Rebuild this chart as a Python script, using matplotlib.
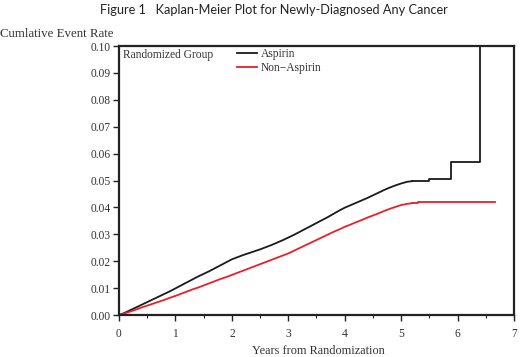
import matplotlib
matplotlib.use("Agg")
import matplotlib.pyplot as plt
from matplotlib.ticker import MultipleLocator, FormatStrFormatter

# ---- data ----
asp_t = [0.0, 0.1, 0.2, 0.3, 0.4, 0.5, 0.6, 0.7, 0.8, 0.9,
         1.0, 1.1, 1.2, 1.3, 1.4, 1.5, 1.6, 1.7, 1.8, 1.9,
         2.0, 2.1, 2.2, 2.3, 2.4, 2.5, 2.6, 2.7, 2.8, 2.9,
         3.0, 3.1, 3.2, 3.3, 3.4, 3.5, 3.6, 3.7, 3.8, 3.9,
         4.0, 4.1, 4.2, 4.3, 4.4, 4.5, 4.6, 4.7, 4.8, 4.9,
         5.0, 5.1, 5.2, 5.5, 5.89, 6.40, 6.40]
asp_v = [0.0000, 0.0008, 0.0018, 0.0028, 0.0038, 0.0048, 0.0058, 0.0068, 0.0078, 0.0088,
         0.0099, 0.0110, 0.0121, 0.0132, 0.0143, 0.0153, 0.0163, 0.0174, 0.0185, 0.0196,
         0.0207, 0.0215, 0.0223, 0.0230, 0.0237, 0.0244, 0.0252, 0.0260, 0.0269, 0.0278,
         0.0288, 0.0298, 0.0309, 0.0320, 0.0331, 0.0342, 0.0353, 0.0364, 0.0376, 0.0388,
         0.0399, 0.0408, 0.0417, 0.0426, 0.0435, 0.0445, 0.0455, 0.0465, 0.0474, 0.0482,
         0.0489, 0.0495, 0.0498, 0.0506, 0.0570, 0.1050, 0.1050]

non_t = [0.0, 0.1, 0.2, 0.3, 0.4, 0.5, 0.6, 0.7, 0.8, 0.9,
         1.0, 1.1, 1.2, 1.3, 1.4, 1.5, 1.6, 1.7, 1.8, 1.9,
         2.0, 2.1, 2.2, 2.3, 2.4, 2.5, 2.6, 2.7, 2.8, 2.9,
         3.0, 3.1, 3.2, 3.3, 3.4, 3.5, 3.6, 3.7, 3.8, 3.9,
         4.0, 4.1, 4.2, 4.3, 4.4, 4.5, 4.6, 4.7, 4.8, 4.9,
         5.0, 5.1, 5.2, 5.3, 6.66]
non_v = [0.0000, 0.0006, 0.0013, 0.0020, 0.0028, 0.0035, 0.0042, 0.0049, 0.0056, 0.0064,
         0.0071, 0.0079, 0.0087, 0.0095, 0.0102, 0.0110, 0.0118, 0.0126, 0.0134, 0.0141,
         0.0149, 0.0157, 0.0165, 0.0173, 0.0181, 0.0189, 0.0197, 0.0205, 0.0213, 0.0221,
         0.0229, 0.0239, 0.0249, 0.0259, 0.0269, 0.0279, 0.0289, 0.0299, 0.0309, 0.0318,
         0.0328, 0.0336, 0.0345, 0.0353, 0.0362, 0.0370, 0.0378, 0.0387, 0.0395, 0.0402,
         0.0409, 0.0413, 0.0416, 0.0421, 0.0421]

series_names = ["Aspirin", "Non\u2212Aspirin"]
title = "Figure 1   Kaplan-Meier Plot for Newly-Diagnosed Any Cancer"
ylabel = "Cumlative Event Rate"
xlabel = "Years from Randomization"
legend_title = "Randomized Group"

serif = "Liberation Serif"
BLACK = "#1a1a1a"
RED = "#e8202a"

fig = plt.figure(figsize=(5.2, 3.57), dpi=100)
ax = fig.add_axes([0.2288, 0.1176, 0.7597, 0.7534])

# dense early part drawn as a jittery line, sparse late part as KM steps
na = asp_t.index(5.2)
nn = non_t.index(5.2)
l1, = ax.plot(asp_t[:na + 1], asp_v[:na + 1], color=BLACK, lw=1.3)
ax.plot(asp_t[na:], asp_v[na:], drawstyle="steps-post", color=BLACK, lw=1.3)
l2, = ax.plot(non_t[:nn + 1], non_v[:nn + 1], color=RED, lw=1.3)
ax.plot(non_t[nn:], non_v[nn:], drawstyle="steps-post", color=RED, lw=1.3)

ax.set_xlim(0, 7)
ax.set_ylim(0, 0.10)
ax.xaxis.set_major_locator(MultipleLocator(1))
ax.xaxis.set_minor_locator(MultipleLocator(0.5))
ax.yaxis.set_major_locator(MultipleLocator(0.01))
ax.yaxis.set_major_formatter(FormatStrFormatter("%.2f"))

for s in ax.spines.values():
    s.set_linewidth(1.6)
    s.set_color("#222222")
ax.tick_params(which="major", direction="out", length=4, width=1, colors="#222222",
               labelsize=8.3, pad=2)
ax.tick_params(which="minor", direction="out", length=2, width=0.8, colors="#222222")
ax.tick_params(axis="x", pad=5)
for lab in ax.get_xticklabels() + ax.get_yticklabels():
    lab.set_fontfamily(serif)
    lab.set_color("#333333")

fig.text(0.527, 0.972, title, ha="center", va="center", fontsize=9.2,
         family="Lato", color="#222222")
fig.text(0.0, 0.905, ylabel, ha="left", va="center", fontsize=9.3,
         family=serif, color="#333333")
fig.text(0.612, 0.016, xlabel, ha="center", va="center", fontsize=8.8,
         family=serif, color="#333333")

# legend inside the axes
ax.text(0.011, 0.965, legend_title, transform=ax.transAxes, ha="left", va="center",
        fontsize=8.3, family=serif, color="#333333")
leg = ax.legend([l1, l2], series_names, loc="upper left",
                bbox_to_anchor=(0.28, 1.02), frameon=False,
                prop={"family": serif, "size": 8.3}, handlelength=1.8,
                handletextpad=0.3, labelspacing=0.2, borderaxespad=0.2)
for t in leg.get_texts():
    t.set_color("#333333")

fig.savefig("out.png", dpi=100)
